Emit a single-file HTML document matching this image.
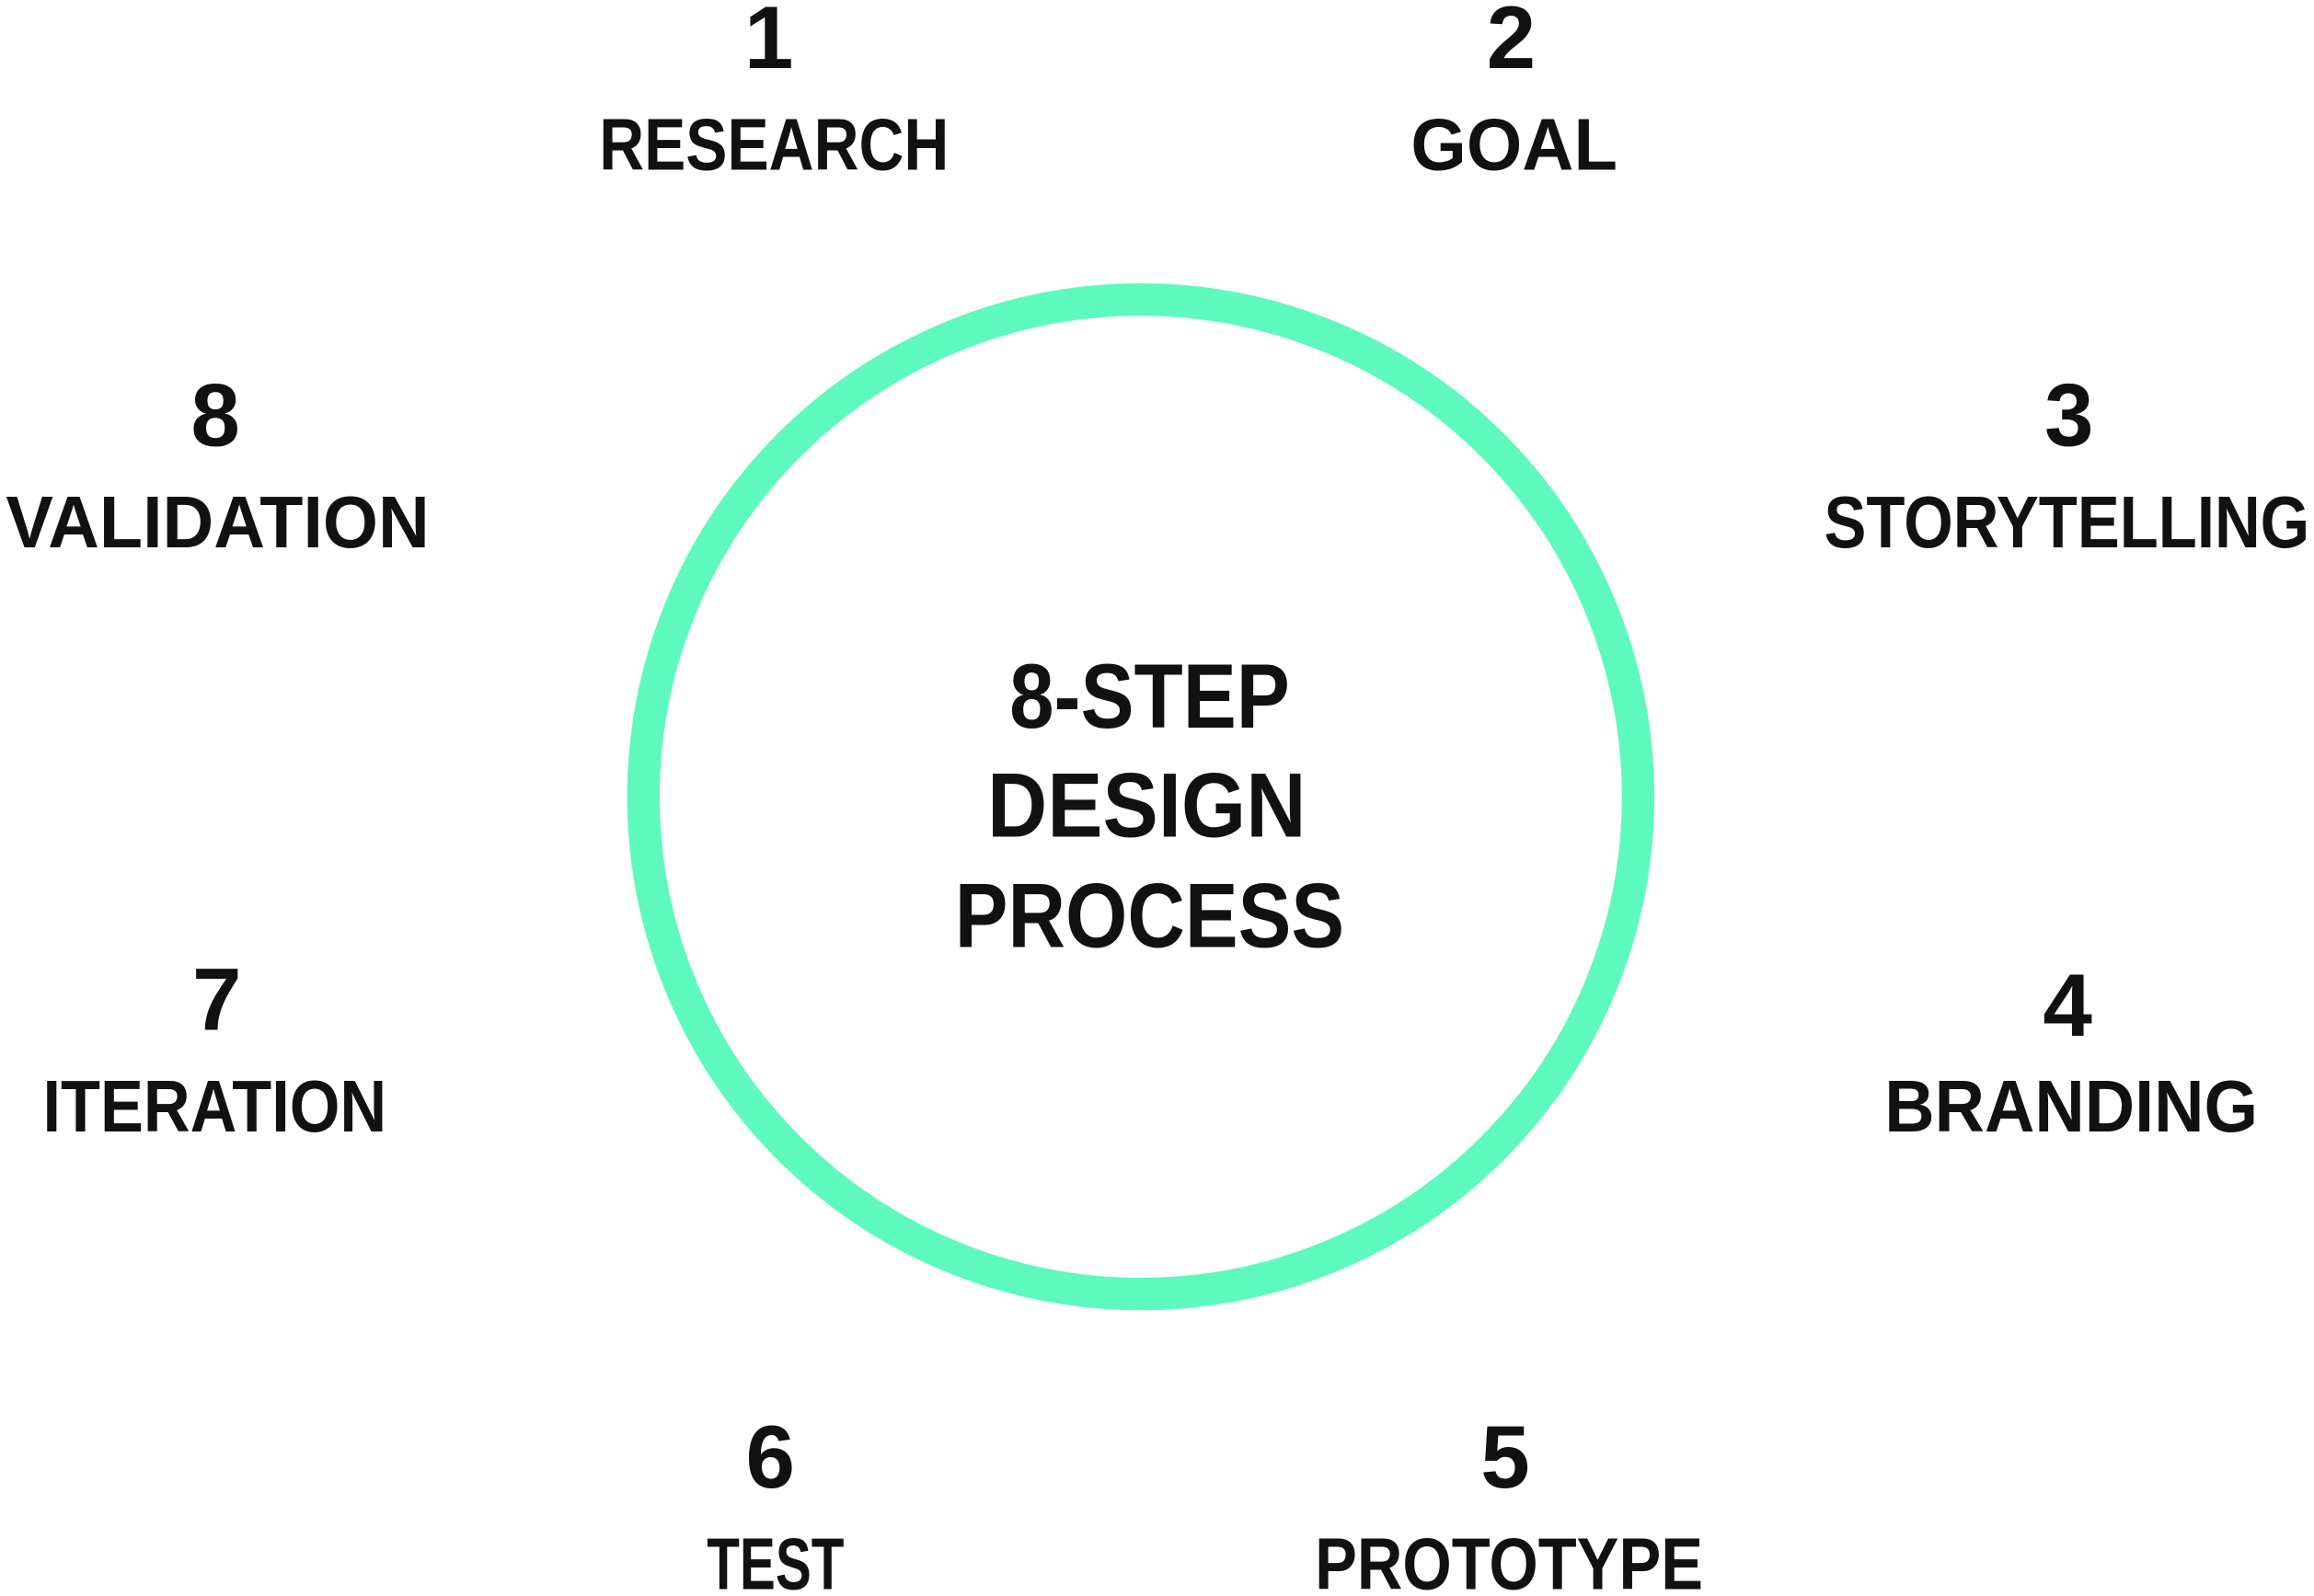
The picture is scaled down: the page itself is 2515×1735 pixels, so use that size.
<!DOCTYPE html>
<html><head><meta charset="utf-8"><style>
html,body{margin:0;padding:0;background:#fff;}
svg{display:block;}
text{font-family:"Liberation Sans",sans-serif;font-weight:bold;fill:#111;}
</style></head><body>
<svg width="2515" height="1735" viewBox="0 0 1568 1081.7" preserveAspectRatio="none" xmlns="http://www.w3.org/2000/svg">
<circle cx="773" cy="540" r="337" fill="none" stroke="#5ef9bd" stroke-width="22"/>
<g font-size="60" text-anchor="middle">
<text x="521" y="46">1</text>
<text x="1024" y="46">2</text>
<text x="1402" y="302">3</text>
<text x="146" y="302">8</text>
<text x="147" y="698">7</text>
<text x="1401" y="702">4</text>
<text x="522" y="1008">6</text>
<text x="1020" y="1008">5</text>
</g>
<g font-size="50">
<text x="406" y="115" textLength="237" lengthAdjust="spacingAndGlyphs">RESEARCH</text>
<text x="956" y="115" textLength="140" lengthAdjust="spacingAndGlyphs">GOAL</text>
<text x="1236" y="371" textLength="329" lengthAdjust="spacingAndGlyphs">STORYTELLING</text>
<text x="4" y="371" textLength="287" lengthAdjust="spacingAndGlyphs">VALIDATION</text>
<text x="29" y="767" textLength="233" lengthAdjust="spacingAndGlyphs">ITERATION</text>
<text x="1277" y="767" textLength="253" lengthAdjust="spacingAndGlyphs">BRANDING</text>
<text x="479" y="1077" textLength="93" lengthAdjust="spacingAndGlyphs">TEST</text>
<text x="891" y="1077" textLength="263" lengthAdjust="spacingAndGlyphs">PROTOTYPE</text>
</g>
<g font-size="62">
<text x="684" y="493" textLength="190" lengthAdjust="spacingAndGlyphs">8-STEP</text>
<text x="669" y="567" textLength="216" lengthAdjust="spacingAndGlyphs">DESIGN</text>
<text x="647" y="642" textLength="264" lengthAdjust="spacingAndGlyphs">PROCESS</text>
</g>
</svg>
</body></html>
